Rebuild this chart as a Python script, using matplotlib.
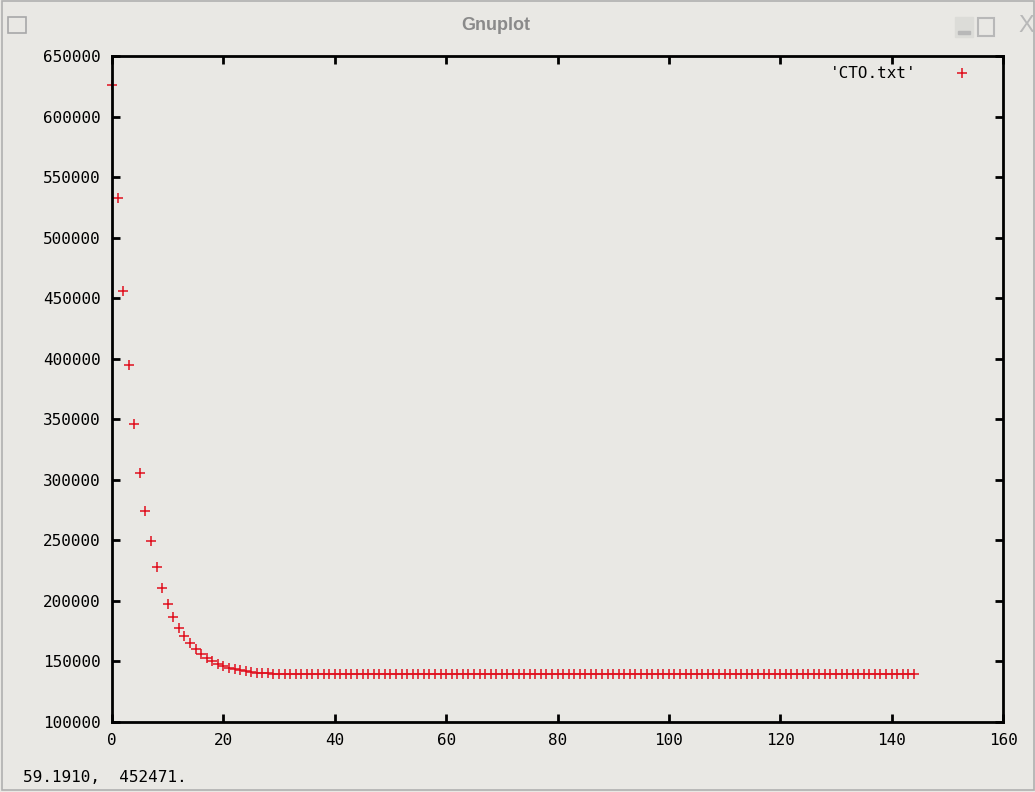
#!/usr/bin/env python3
# -*- coding: utf-8 -*-

import matplotlib as mpl
mpl.use("Agg")
from matplotlib import pyplot as plt
from matplotlib.patches import Rectangle

# - data (iteration vs value)
head_values = [
    626000, 533000, 456000, 395000, 345800, 306000, 274000, 249500,
    228300, 210400, 197400, 186400, 177900, 171000, 165500, 160500,
    156200, 153100, 150400, 148200, 146200, 144900, 143800, 142700,
    141900, 141300, 140800, 140400, 140100, 139800, 139600,
]
tail_values = [139500] * 114
values = head_values + tail_values
steps = list(range(len(values)))

x_ticks = [0, 20, 40, 60, 80, 100, 120, 140, 160]
y_ticks = [100000, 150000, 200000, 250000, 300000, 350000,
           400000, 450000, 500000, 550000, 600000, 650000]
series_label = "'CTO.txt'"
window_title = "Gnuplot"
status_text = "59.1910,  452471."

bg = "#e9e8e4"
red = "#e0101e"
mono = ["DejaVu Sans Mono"]

W, H = 1035, 792
fig = plt.figure(figsize=(W / 100, H / 100), dpi=100, facecolor=bg)

# - plot area
ax = fig.add_axes([112 / W, 1 - 722 / H, (1003 - 112) / W, (722 - 56) / H])
ax.set_facecolor(bg)
ax.plot(steps, values, linestyle="none", marker="+", color=red,
        markersize=7, markeredgewidth=1.1, clip_on=False)
ax.set_xlim(0, 160)
ax.set_ylim(100000, 650000)
ax.set_xticks(x_ticks)
ax.set_yticks(y_ticks)
ax.set_xticklabels([str(t) for t in x_ticks], family=mono, fontsize=11.5)
ax.set_yticklabels([str(t) for t in y_ticks], family=mono, fontsize=11.5)
ax.tick_params(direction="in", length=6, width=2, top=True, right=True,
               pad=8, colors="black")
for sp in ax.spines.values():
    sp.set_linewidth(2)

# -- legend drawn gnuplot-style (text + sample)
fig.text(917 / W, 1 - 73 / H, series_label, ha="right", va="center",
         family=mono, fontsize=11.5)
ax.plot([962 / W], [1 - 73 / H], transform=fig.transFigure, marker="+",
        color=red, markersize=7, markeredgewidth=1.1, linestyle="none",
        clip_on=False)

# - window decoration
fig.text(496 / W, 1 - 26 / H, window_title, ha="center", va="center",
         fontsize=13, color="#8a8a8a", fontweight="bold", family=["Liberation Sans"])
fig.patches.append(Rectangle((8 / W, 1 - 33 / H), 18 / W, 16 / H,
                             transform=fig.transFigure, fill=False,
                             edgecolor="#a8a8a8", linewidth=1.2))
fig.patches.append(Rectangle((955 / W, 1 - 37 / H), 18 / W, 20 / H,
                             transform=fig.transFigure, color="#dcdcd8"))
fig.patches.append(Rectangle((958 / W, 1 - 34 / H), 12 / W, 3 / H,
                             transform=fig.transFigure, color="#b8b8b8"))
fig.patches.append(Rectangle((978 / W, 1 - 36 / H), 16 / W, 18 / H,
                             transform=fig.transFigure, fill=False,
                             edgecolor="#b8b8b8", linewidth=1.5))
fig.text(1026 / W, 1 - 26 / H, "X", ha="center", va="center",
         fontsize=17, color="#b8b8b8", family=["Liberation Sans"])
fig.patches.append(Rectangle((1.5 / W, 2 / H), (W - 3) / W, (H - 3) / H,
                             transform=fig.transFigure, fill=False,
                             edgecolor="#b0b0b0", linewidth=1.2))

# - status line
fig.text(23 / W, 1 - 778 / H, status_text, ha="left", va="center",
         family=mono, fontsize=11.5)

plt.savefig("out.png", dpi=100, facecolor=bg)
plt.close()
